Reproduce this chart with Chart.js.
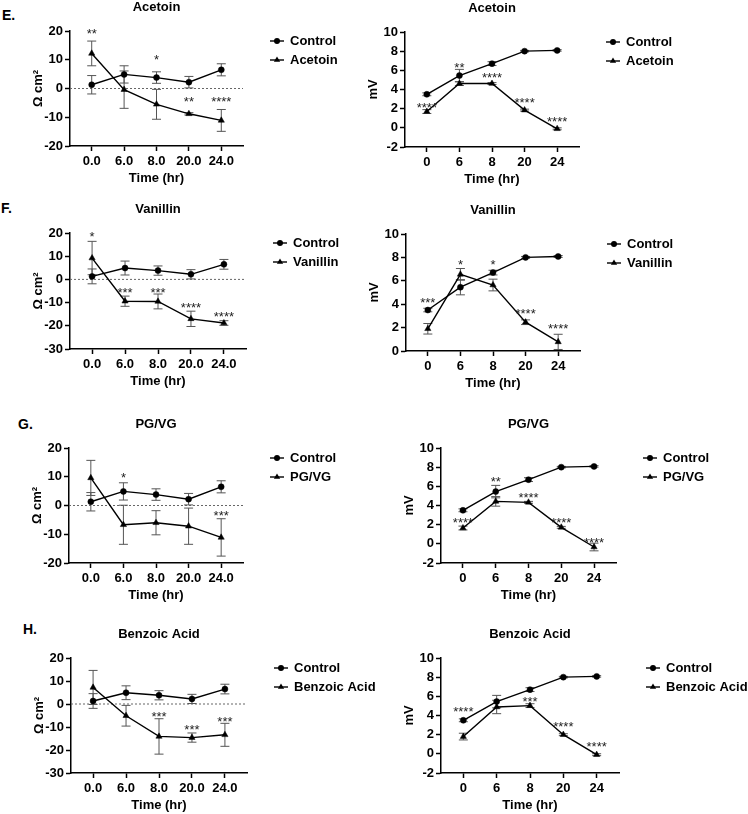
<!DOCTYPE html>
<html>
<head>
<meta charset="utf-8">
<script src="https://cdn.jsdelivr.net/npm/chart.js@4.4.0/dist/chart.umd.min.js"></script>
<style>
  html, body { margin: 0; padding: 0; background: #fff; }
  body { width: 748px; height: 814px; position: relative; overflow: hidden; font-family: 'Liberation Sans', Arial, sans-serif; }
  .letter { position: absolute; font-weight: bold; font-size: 14px; line-height: 16px; color: #000; }
  canvas { position: absolute; }
</style>
</head>
<body>
<div class="letter" style="left:2px;top:7px">E.</div>
<div class="letter" style="left:1px;top:200px">F.</div>
<div class="letter" style="left:18px;top:416px">G.</div>
<div class="letter" style="left:23px;top:621px">H.</div>
<script>
// x categories
const ohmTimes = ['0.0', '6.0', '8.0', '20.0', '24.0'];
const mvTimes = ['0', '6', '8', '20', '24'];

// control (same in every panel)
const controlOhm = [1.3, 4.9, 3.8, 2.2, 6.5];
const controlOhmErr = [3.2, 3.0, 2.0, 2.0, 2.1];
const controlMv = [3.5, 5.45, 6.7, 8.0, 8.08];
const controlMvErr = [0.15, 0.65, 0.2, 0.08, 0.08];

// Acetoin
const acetoinOhm = [12.2, -0.4, -5.5, -8.8, -11.1];
const acetoinOhmErr = [4.3, 6.5, 5.2, 0.4, 3.8];
const acetoinOhmStars = ['**', '', '*', '**', '****'];
const acetoinOhmStarY = [20.2, null, 11, -3.5, -3.5];
const acetoinMv = [1.7, 4.62, 4.62, 1.85, -0.1];
const acetoinMvErr = [0.2, 0.2, 0.1, 0.1, 0.1];
const acetoinMvStars = ['****', '**', '****', '****', '****'];
const acetoinMvStarY = [2.45, 6.6, 5.6, 2.95, 0.95];

// Vanillin
const vanillinOhm = [9.2, -9.4, -9.5, -17, -18.8];
const vanillinOhmErr = [7.2, 2.2, 3.2, 3.3, 1.0];
const vanillinOhmStars = ['*', '***', '***', '****', '****'];
const vanillinOhmStarY = [20, -4.5, -4.5, -11, -14.6];
const vanillinMv = [1.9, 6.55, 5.64, 2.46, 0.78];
const vanillinMvErr = [0.45, 0.5, 0.5, 0.2, 0.65];
const vanillinMvStars = ['***', '*', '*', '****', '****'];
const vanillinMvStarY = [4.36, 7.65, 7.65, 3.5, 2.15];

// PG/VG
const pgvgOhm = [9.6, -6.7, -6.0, -7.2, -11.1];
const pgvgOhmErr = [6.1, 6.8, 4.2, 6.3, 6.5];
const pgvgOhmStars = ['', '*', '', '', '***'];
const pgvgOhmStarY = [null, 10.7, null, null, -2.3];
const pgvgMv = [1.65, 4.43, 4.33, 1.72, -0.33];
const pgvgMvErr = [0.2, 0.5, 0.1, 0.1, 0.4];
const pgvgMvStars = ['****', '**', '****', '****', '****'];
const pgvgMvStarY = [2.5, 6.8, 5.2, 2.5, 0.5];

// Benzoic Acid
const benzoicOhm = [7.2, -5.1, -14.1, -14.6, -13.4];
const benzoicOhmErr = [7.4, 4.5, 7.7, 2.0, 5.0];
const benzoicOhmStars = ['', '', '***', '***', '***'];
const benzoicOhmStarY = [null, null, -4, -9.8, -6.2];
const benzoicMv = [1.8, 4.89, 5.03, 2.0, -0.09];
const benzoicMvErr = [0.35, 0.7, 0.2, 0.1, 0.1];
const benzoicMvStars = ['****', '', '***', '****', '****'];
const benzoicMvStarY = [4.7, null, 5.8, 3.2, 1.1];

const FONT = "'Liberation Sans', Arial, sans-serif";

// plot = [left, top, right, bottom] of the plotting area on the page
const panels = [
  { plot: [70, 31, 243, 146], name: 'Acetoin', cats: ohmTimes, yTitle: 'Ω cm²', yMin: -20, yMax: 20, yStep: 10, zero: true,
    ctrl: controlOhm, ctrlErr: controlOhmErr, vals: acetoinOhm, errs: acetoinOhmErr, stars: acetoinOhmStars, starY: acetoinOhmStarY },
  { plot: [405, 32, 579, 147], name: 'Acetoin', cats: mvTimes, yTitle: 'mV', yMin: -2, yMax: 10, yStep: 2, zero: false,
    ctrl: controlMv, ctrlErr: controlMvErr, vals: acetoinMv, errs: acetoinMvErr, stars: acetoinMvStars, starY: acetoinMvStarY },
  { plot: [70, 233, 246, 349], name: 'Vanillin', cats: ohmTimes, yTitle: 'Ω cm²', yMin: -30, yMax: 20, yStep: 10, zero: true,
    ctrl: controlOhm, ctrlErr: controlOhmErr, vals: vanillinOhm, errs: vanillinOhmErr, stars: vanillinOhmStars, starY: vanillinOhmStarY },
  { plot: [406, 234, 580, 351], name: 'Vanillin', cats: mvTimes, yTitle: 'mV', yMin: 0, yMax: 10, yStep: 2, zero: false,
    ctrl: controlMv, ctrlErr: controlMvErr, vals: vanillinMv, errs: vanillinMvErr, stars: vanillinMvStars, starY: vanillinMvStarY },
  { plot: [69, 448, 243, 563], name: 'PG/VG', cats: ohmTimes, yTitle: 'Ω cm²', yMin: -20, yMax: 20, yStep: 10, zero: true,
    ctrl: controlOhm, ctrlErr: controlOhmErr, vals: pgvgOhm, errs: pgvgOhmErr, stars: pgvgOhmStars, starY: pgvgOhmStarY },
  { plot: [441, 448, 616, 563], name: 'PG/VG', cats: mvTimes, yTitle: 'mV', yMin: -2, yMax: 10, yStep: 2, zero: false,
    ctrl: controlMv, ctrlErr: controlMvErr, vals: pgvgMv, errs: pgvgMvErr, stars: pgvgMvStars, starY: pgvgMvStarY },
  { plot: [71, 658, 247, 773], name: 'Benzoic Acid', cats: ohmTimes, yTitle: 'Ω cm²', yMin: -30, yMax: 20, yStep: 10, zero: true,
    ctrl: controlOhm, ctrlErr: controlOhmErr, vals: benzoicOhm, errs: benzoicOhmErr, stars: benzoicOhmStars, starY: benzoicOhmStarY },
  { plot: [441, 658, 619, 773], name: 'Benzoic Acid', cats: mvTimes, yTitle: 'mV', yMin: -2, yMax: 10, yStep: 2, zero: false,
    ctrl: controlMv, ctrlErr: controlMvErr, vals: benzoicMv, errs: benzoicMvErr, stars: benzoicMvStars, starY: benzoicMvStarY }
];

const PAD_LEFT = 70, PAD_TOP = 32, PAD_RIGHT = 128, PAD_BOTTOM = 45;

function drawMarker(ctx, style, x, y) {
  ctx.beginPath();
  if (style === 'triangle') {
    const r = 3.6;
    ctx.moveTo(x, y - r);
    ctx.lineTo(x + r * 0.87, y + r * 0.5);
    ctx.lineTo(x - r * 0.87, y + r * 0.5);
    ctx.closePath();
  } else {
    ctx.arc(x, y, 3, 0, Math.PI * 2);
  }
  ctx.fill();
}

// error bars, zero line, title, stars and legend
const extrasPlugin = {
  id: 'extras',
  beforeDatasetsDraw(chart, args, opts) {
    const { ctx, chartArea: a, scales: { x, y } } = chart;
    ctx.save();
    if (opts.zero) {
      const y0 = y.getPixelForValue(0);
      ctx.strokeStyle = '#666';
      ctx.lineWidth = 1;
      ctx.setLineDash([2, 2]);
      ctx.beginPath();
      ctx.moveTo(a.left, y0);
      ctx.lineTo(a.right, y0);
      ctx.stroke();
      ctx.setLineDash([]);
    }
    ctx.strokeStyle = '#555';
    ctx.lineWidth = 1;
    chart.data.datasets.forEach(ds => {
      ds.data.forEach((pt, i) => {
        const e = ds.errors[i];
        const px = x.getPixelForValue(pt.x);
        const top = y.getPixelForValue(pt.y + e);
        const bot = y.getPixelForValue(pt.y - e);
        ctx.beginPath();
        ctx.moveTo(px, top); ctx.lineTo(px, bot);
        ctx.moveTo(px - 4.5, top); ctx.lineTo(px + 4.5, top);
        ctx.moveTo(px - 4.5, bot); ctx.lineTo(px + 4.5, bot);
        ctx.stroke();
      });
    });
    ctx.restore();
  },
  afterDraw(chart, args, opts) {
    const { ctx, chartArea: a, scales: { x, y } } = chart;
    ctx.save();
    // title
    ctx.fillStyle = '#000';
    ctx.font = 'bold 13px ' + FONT;
    ctx.textAlign = 'center';
    ctx.textBaseline = 'middle';
    ctx.fillText(opts.title, (a.left + a.right) / 2, a.top - 24);

    // significance stars
    ctx.font = '13px ' + FONT;
    ctx.fillStyle = '#222';
    ctx.textBaseline = 'alphabetic';
    opts.stars.forEach((s, i) => {
      if (!s) return;
      const px = x.getPixelForValue(i);
      const py = y.getPixelForValue(opts.starY[i]);
      ctx.fillText(s, px, py + 7.5);
    });

    // legend
    ctx.font = 'bold 13px ' + FONT;
    ctx.textAlign = 'left';
    ctx.textBaseline = 'middle';
    chart.data.datasets.forEach((ds, i) => {
      const ly = a.top + 10 + i * 19;
      const lx = a.right + 27;
      ctx.strokeStyle = '#000';
      ctx.lineWidth = 1.4;
      ctx.beginPath();
      ctx.moveTo(lx, ly);
      ctx.lineTo(lx + 14, ly);
      ctx.stroke();
      ctx.fillStyle = '#000';
      drawMarker(ctx, ds.pointStyle, lx + 7, ly);
      ctx.fillText(ds.label, lx + 20, ly + 0.5);
    });
    ctx.restore();
  }
};

const toPoints = vals => vals.map((v, i) => ({ x: i, y: v }));

panels.forEach(p => {
  const [L, T, R, B] = p.plot;
  const canvas = document.createElement('canvas');
  canvas.width = (R - L) + PAD_LEFT + PAD_RIGHT;
  canvas.height = (B - T) + PAD_TOP + PAD_BOTTOM;
  canvas.style.left = (L - PAD_LEFT) + 'px';
  canvas.style.top = (T - PAD_TOP) + 'px';
  document.body.appendChild(canvas);

  const tickFont = { family: FONT, size: 13, weight: 'bold' };
  const gridOpts = { drawOnChartArea: false, drawTicks: true, tickLength: 5, tickColor: '#000', tickWidth: 1.5 };
  const borderOpts = { color: '#000', width: 1.5 };

  new Chart(canvas, {
    type: 'line',
    data: {
      datasets: [
        {
          label: 'Control', data: toPoints(p.ctrl), errors: p.ctrlErr,
          borderColor: '#000', backgroundColor: '#000', pointBackgroundColor: '#000', pointBorderColor: '#000',
          borderWidth: 1.4, pointStyle: 'circle', pointRadius: 3, pointBorderWidth: 0.5, tension: 0
        },
        {
          label: p.name, data: toPoints(p.vals), errors: p.errs,
          borderColor: '#000', backgroundColor: '#000', pointBackgroundColor: '#000', pointBorderColor: '#000',
          borderWidth: 1.4, pointStyle: 'triangle', pointRadius: 3.6, pointBorderWidth: 0.5, tension: 0
        }
      ]
    },
    options: {
      responsive: false,
      animation: false,
      layout: { padding: { top: PAD_TOP, right: PAD_RIGHT, left: 0, bottom: 0 } },
      plugins: {
        legend: { display: false },
        tooltip: { enabled: false },
        colors: { enabled: false },
        extras: { title: p.name, zero: p.zero, stars: p.stars, starY: p.starY }
      },
      scales: {
        x: {
          type: 'linear',
          min: -0.67,
          max: 4.67,
          afterBuildTicks: s => { s.ticks = p.cats.map((c, i) => ({ value: i })); },
          afterFit: s => { s.height = PAD_BOTTOM; },
          ticks: { callback: v => p.cats[v], color: '#000', font: tickFont, padding: 3, maxRotation: 0, autoSkip: false },
          grid: gridOpts,
          border: borderOpts,
          title: { display: true, text: 'Time (hr)', color: '#000', font: tickFont, padding: { top: 0, bottom: 5 } }
        },
        y: {
          min: p.yMin,
          max: p.yMax,
          afterFit: s => { s.width = PAD_LEFT; },
          ticks: { stepSize: p.yStep, color: '#000', font: tickFont, padding: 2 },
          grid: gridOpts,
          border: borderOpts,
          title: { display: true, text: p.yTitle, color: '#000', font: tickFont, padding: { top: 31, bottom: 0 } }
        }
      }
    },
    plugins: [extrasPlugin]
  });
});
</script>
</body>
</html>
